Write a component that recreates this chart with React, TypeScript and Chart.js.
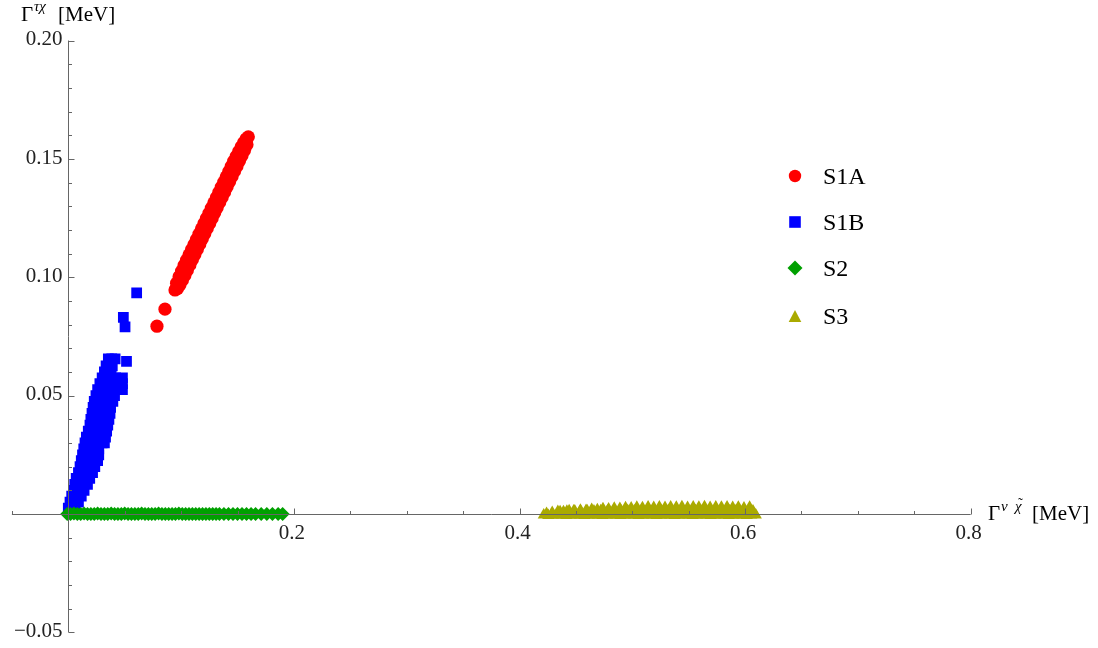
import React, { useEffect, useRef, useState } from 'react';
import { Chart, registerables } from 'chart.js';

Chart.register(...registerables);

// ---------- data ----------
const seriesLabels = ['S1A', 'S1B', 'S2', 'S3'];
const seriesColors = ['#ff0000', '#0000ff', '#00a000', '#aaaa00'];

const s1aPoints: [number, number][] = [
  [0.0786, 0.0793], [0.0857, 0.0865],
  [0.0946, 0.0946], [0.096, 0.0975], [0.0968, 0.0952], [0.0982, 0.1002], [0.099, 0.0968],
  [0.1004, 0.1026], [0.1012, 0.0988], [0.1026, 0.1050], [0.1034, 0.1008], [0.1048, 0.1072],
  [0.1056, 0.1030], [0.107, 0.1094], [0.1078, 0.1052], [0.1092, 0.1116], [0.11, 0.1074],
  [0.1114, 0.1138], [0.1122, 0.1096], [0.1136, 0.1160], [0.1144, 0.1118], [0.1158, 0.1182],
  [0.1166, 0.1140], [0.118, 0.1204], [0.1188, 0.1162], [0.1202, 0.1226], [0.121, 0.1184],
  [0.1224, 0.1248], [0.1232, 0.1206], [0.1246, 0.1270], [0.1254, 0.1228], [0.1268, 0.1292],
  [0.1276, 0.1250], [0.129, 0.1314], [0.1298, 0.1272], [0.1312, 0.1336], [0.132, 0.1294],
  [0.1334, 0.1358], [0.1342, 0.1316], [0.1356, 0.1380], [0.1364, 0.1338], [0.1378, 0.1402],
  [0.1386, 0.1360], [0.14, 0.1424], [0.1408, 0.1382], [0.1422, 0.1446], [0.143, 0.1404],
  [0.1444, 0.1468], [0.1452, 0.1426], [0.1466, 0.1490], [0.1474, 0.1448], [0.1488, 0.1510],
  [0.1496, 0.1470], [0.151, 0.1530], [0.1518, 0.1492], [0.1532, 0.1550], [0.154, 0.1514],
  [0.1554, 0.1568], [0.1562, 0.1536], [0.1576, 0.1584], [0.1584, 0.1560], [0.1596, 0.1593],
];

const s1bPoints: [number, number][] = [
  [0.0, 0.0025], [0.004, 0.0025], [0.006, 0.0025],
  [0.0015, 0.005], [0.005, 0.005], [0.009, 0.005],
  [0.003, 0.0075], [0.007, 0.0075], [0.0115, 0.0075],
  [0.0045, 0.01], [0.008, 0.01], [0.011, 0.01], [0.014, 0.01],
  [0.0057, 0.0125], [0.009, 0.0125], [0.0125, 0.0125], [0.017, 0.0125],
  [0.007, 0.015], [0.0105, 0.015], [0.014, 0.015], [0.019, 0.015],
  [0.009, 0.0175], [0.0125, 0.0175], [0.016, 0.0175], [0.0215, 0.0175],
  [0.0104, 0.02], [0.014, 0.02], [0.018, 0.02], [0.0235, 0.02],
  [0.0115, 0.0225], [0.015, 0.0225], [0.019, 0.0225], [0.026, 0.0225],
  [0.0126, 0.025], [0.016, 0.025], [0.02, 0.025], [0.024, 0.025], [0.027, 0.025],
  [0.0137, 0.0275], [0.017, 0.0275], [0.021, 0.0275], [0.024, 0.0275], [0.027, 0.0275],
  [0.0148, 0.03], [0.018, 0.03], [0.022, 0.03], [0.026, 0.03], [0.03, 0.03], [0.032, 0.03],
  [0.016, 0.0325], [0.02, 0.0325], [0.024, 0.0325], [0.028, 0.0325], [0.033, 0.0325],
  [0.0177, 0.035], [0.021, 0.035], [0.025, 0.035], [0.029, 0.035], [0.034, 0.035],
  [0.0192, 0.0375], [0.023, 0.0375], [0.027, 0.0375], [0.031, 0.0375], [0.035, 0.0375],
  [0.02, 0.04], [0.024, 0.04], [0.028, 0.04], [0.032, 0.04], [0.036, 0.04],
  [0.021, 0.0425], [0.025, 0.0425], [0.029, 0.0425], [0.033, 0.0425], [0.037, 0.0425],
  [0.022, 0.045], [0.026, 0.045], [0.03, 0.045], [0.034, 0.045], [0.0375, 0.045],
  [0.023, 0.0475], [0.027, 0.0475], [0.031, 0.0475], [0.035, 0.0475], [0.0395, 0.0475],
  [0.0245, 0.05], [0.028, 0.05], [0.032, 0.05], [0.036, 0.05], [0.041, 0.05],
  [0.026, 0.0525], [0.03, 0.0525], [0.034, 0.0525], [0.038, 0.0525], [0.042, 0.0525], [0.045, 0.0525], [0.048, 0.0525],
  [0.028, 0.055], [0.032, 0.055], [0.036, 0.055], [0.04, 0.055], [0.044, 0.055], [0.048, 0.055],
  [0.03, 0.0575], [0.034, 0.0575], [0.038, 0.0575], [0.042, 0.0575], [0.048, 0.0575],
  [0.032, 0.06], [0.035, 0.06], [0.038, 0.06],
  [0.0335, 0.0625], [0.036, 0.0625], [0.039, 0.0625],
  [0.0355, 0.0655], [0.0385, 0.0655], [0.0415, 0.0655], [0.0516, 0.0645],
  [0.0503, 0.079], [0.0488, 0.083], [0.0606, 0.0934],
];

const s2Points: [number, number][] = [
  [-0.001, 0.0], [0.002, 0.0], [0.005, 0.0002], [0.008, 0.0], [0.011, 0.0], [0.014, 0.0002], [0.017, 0.0],
  [0.02, 0.0], [0.023, 0.0], [0.026, 0.0002], [0.029, 0.0], [0.032, 0.0], [0.035, 0.0], [0.038, 0.0002],
  [0.041, 0.0], [0.044, 0.0], [0.047, 0.0], [0.05, 0.0002], [0.053, 0.0], [0.056, 0.0], [0.059, 0.0],
  [0.062, 0.0], [0.065, 0.0002], [0.068, 0.0], [0.071, 0.0], [0.074, 0.0], [0.077, 0.0], [0.08, 0.0002],
  [0.083, 0.0], [0.086, 0.0], [0.089, 0.0], [0.092, 0.0], [0.095, 0.0], [0.098, 0.0002], [0.101, 0.0],
  [0.104, 0.0], [0.107, 0.0], [0.11, 0.0], [0.113, 0.0], [0.116, 0.0], [0.119, 0.0], [0.122, 0.0],
  [0.125, 0.0], [0.128, 0.0], [0.131, 0.0], [0.134, 0.0], [0.138, 0.0], [0.142, 0.0], [0.146, 0.0],
  [0.15, 0.0], [0.154, 0.0], [0.158, 0.0], [0.162, 0.0], [0.166, 0.0], [0.171, 0.0], [0.176, 0.0],
  [0.181, 0.0], [0.186, 0.0], [0.19, 0.0],
];

const s3LowPoints: [number, number][] = [
  [0.4215, -0.0004], [0.4255, -0.0007], [0.4295, -0.0005], [0.4335, -0.0006], [0.4375, -0.0004],
  [0.4415, -0.0007], [0.4455, -0.0005], [0.4495, -0.0006], [0.4535, -0.0004], [0.4575, -0.0007],
  [0.4615, -0.0005], [0.4655, -0.0006], [0.4695, -0.0004], [0.4735, -0.0007], [0.4775, -0.0005],
  [0.4815, -0.0006], [0.4855, -0.0004], [0.4895, -0.0007], [0.4935, -0.0005], [0.4975, -0.0006],
  [0.5015, -0.0004], [0.5055, -0.0007], [0.5095, -0.0005], [0.5135, -0.0006], [0.5175, -0.0004],
  [0.5215, -0.0007], [0.5255, -0.0005], [0.5295, -0.0006], [0.5335, -0.0004], [0.5375, -0.0007],
  [0.5415, -0.0005], [0.5455, -0.0006], [0.5495, -0.0004], [0.5535, -0.0007], [0.5575, -0.0005],
  [0.5615, -0.0006], [0.5655, -0.0004], [0.5695, -0.0007], [0.5735, -0.0005], [0.5775, -0.0006],
  [0.5815, -0.0004], [0.5855, -0.0007], [0.5895, -0.0005], [0.5935, -0.0006], [0.5975, -0.0004],
  [0.6015, -0.0007], [0.6055, -0.0005], [0.6095, -0.0004],
];

const s3MidPoints: [number, number][] = [
  [0.436, 0.0009], [0.442, 0.0011], [0.448, 0.0012], [0.454, 0.0012], [0.46, 0.0013], [0.466, 0.0012],
  [0.472, 0.0013], [0.478, 0.0012], [0.484, 0.0013], [0.49, 0.0012], [0.496, 0.0013], [0.502, 0.0012],
  [0.508, 0.0013], [0.514, 0.0012], [0.52, 0.0013], [0.526, 0.0012], [0.532, 0.0013], [0.538, 0.0012],
  [0.544, 0.0013], [0.55, 0.0012], [0.556, 0.0013], [0.562, 0.0012], [0.568, 0.0013], [0.574, 0.0012],
  [0.58, 0.0013], [0.586, 0.0012], [0.592, 0.0013], [0.598, 0.0012], [0.604, 0.0011],
];

const s3TopPoints: [number, number][] = [
  [0.424, 0.0002], [0.429, 0.0006], [0.434, 0.001], [0.439, 0.0009], [0.444, 0.0013], [0.449, 0.0012],
  [0.454, 0.0016], [0.459, 0.0015], [0.464, 0.0019], [0.469, 0.0018], [0.474, 0.0022], [0.479, 0.0021],
  [0.484, 0.0024], [0.489, 0.0023], [0.494, 0.0026], [0.499, 0.0025], [0.504, 0.0028], [0.509, 0.0026],
  [0.514, 0.0029], [0.519, 0.0027], [0.524, 0.0029], [0.529, 0.0027], [0.534, 0.0029], [0.539, 0.0028],
  [0.544, 0.003], [0.549, 0.0027], [0.554, 0.0029], [0.559, 0.0028], [0.564, 0.003], [0.569, 0.0027],
  [0.574, 0.0029], [0.579, 0.0028], [0.584, 0.0029], [0.589, 0.0027], [0.594, 0.0028], [0.599, 0.0025],
  [0.604, 0.0028], [0.607, 0.0012],
];

const xRange = [-0.05, 0.8];
const yRange = [-0.05, 0.2];
const xTickValues = [0.2, 0.4, 0.6, 0.8];
const xTickLabels = ['0.2', '0.4', '0.6', '0.8'];
const yTickValues = [-0.05, 0.05, 0.1, 0.15, 0.2];
const yTickLabels = ['\u22120.05', '0.05', '0.10', '0.15', '0.20'];

const SERIF = '"Liberation Serif", serif';
const ASC = 0.8375; // baseline offset (em) inside a line-height:1 box for Liberation Serif
const legendY = [176, 222, 268, 316];
const legendX = 795;

function drawMarker(ctx: CanvasRenderingContext2D, kind: number, x: number, y: number) {
  ctx.save();
  ctx.fillStyle = seriesColors[kind];
  ctx.beginPath();
  if (kind === 0) {
    ctx.arc(x, y, 6.2, 0, Math.PI * 2);
  } else if (kind === 1) {
    ctx.rect(x - 5.8, y - 5.8, 11.6, 11.6);
  } else if (kind === 2) {
    ctx.moveTo(x - 7.5, y);
    ctx.lineTo(x, y - 7.5);
    ctx.lineTo(x + 7.5, y);
    ctx.lineTo(x, y + 7.5);
    ctx.closePath();
  } else {
    ctx.moveTo(x, y - 6);
    ctx.lineTo(x + 6.3, y + 6);
    ctx.lineTo(x - 6.3, y + 6);
    ctx.closePath();
  }
  ctx.fill();
  ctx.restore();
}

const axesPlugin = {
  id: 'mmaAxes',
  afterDatasetsDraw(chart: any) {
    const ctx: CanvasRenderingContext2D = chart.ctx;
    const xs = chart.scales.x;
    const ys = chart.scales.y;
    const x0 = Math.round(xs.getPixelForValue(0)) + 0.5;
    const y0 = Math.round(ys.getPixelForValue(0)) + 0.5;
    ctx.save();
    ctx.strokeStyle = '#666';
    ctx.lineWidth = 1;
    ctx.beginPath();
    ctx.moveTo(xs.getPixelForValue(xRange[0]), y0);
    ctx.lineTo(xs.getPixelForValue(xRange[1]), y0);
    ctx.moveTo(x0, ys.getPixelForValue(yRange[0]));
    ctx.lineTo(x0, ys.getPixelForValue(yRange[1]));
    ctx.stroke();
    ctx.beginPath();
    for (let i = -1; i <= 16; i++) {
      const px = Math.round(xs.getPixelForValue(i * 0.05)) + 0.5;
      const len = i % 4 === 0 ? 6 : 3.5;
      ctx.moveTo(px, y0);
      ctx.lineTo(px, y0 - len);
    }
    for (let i = -5; i <= 20; i++) {
      const py = Math.round(ys.getPixelForValue(i * 0.01)) + 0.5;
      const len = i % 5 === 0 ? 6 : 3.5;
      ctx.moveTo(x0, py);
      ctx.lineTo(x0 + len, py);
    }
    ctx.stroke();
    ctx.restore();
    seriesLabels.forEach((_, i) => drawMarker(ctx, i, legendX, legendY[i]));
  },
};

const toXY = (pts: [number, number][]) => pts.map(([x, y]) => ({ x, y }));

type Pos = { xt: number[]; yt: number[]; x0: number; y0: number };

function T(props: { x: number; b: number; size: number; text: string; align?: 'left' | 'center' | 'right'; italic?: boolean; color?: string }) {
  const { x, b, size, text, align = 'left', italic, color = '#000' } = props;
  const tx = align === 'center' ? 'translateX(-50%)' : align === 'right' ? 'translateX(-100%)' : 'none';
  return (
    <div
      style={{
        position: 'absolute',
        left: x,
        top: b - ASC * size,
        fontFamily: SERIF,
        fontSize: size,
        lineHeight: `${size}px`,
        fontStyle: italic ? 'italic' : 'normal',
        color,
        whiteSpace: 'nowrap',
        transform: tx,
      }}
    >
      {text}
    </div>
  );
}

export default function App() {
  const ref = useRef<HTMLCanvasElement | null>(null);
  const [pos, setPos] = useState<Pos | null>(null);
  useEffect(() => {
    if (!ref.current) return;
    const chart = new Chart(ref.current, {
      type: 'scatter',
      data: {
        datasets: [
          { label: seriesLabels[0], data: toXY(s1aPoints), backgroundColor: seriesColors[0], pointStyle: 'circle', pointRadius: 6.6, borderWidth: 0, order: 3 },
          { label: seriesLabels[1], data: toXY(s1bPoints), backgroundColor: seriesColors[1], pointStyle: 'rect', pointRadius: 7.6, borderWidth: 0, order: 2 },
          { label: seriesLabels[2], data: toXY(s2Points), backgroundColor: seriesColors[2], pointStyle: 'rectRot', pointRadius: 7, borderWidth: 0, order: 1 },
          { label: seriesLabels[3], data: toXY([...s3LowPoints, ...s3MidPoints, ...s3TopPoints]), backgroundColor: seriesColors[3], pointStyle: 'triangle', pointRadius: 7, borderWidth: 0, order: 0 },
        ] as any,
      },
      options: {
        responsive: false,
        animation: false,
        events: [],
        layout: { padding: { left: 11.9, right: 127.3, top: 40.5, bottom: 15.7 } },
        plugins: { legend: { display: false }, tooltip: { enabled: false } },
        scales: {
          x: { type: 'linear', min: xRange[0], max: xRange[1], display: false },
          y: { type: 'linear', min: yRange[0], max: yRange[1], display: false },
        },
      },
      plugins: [axesPlugin],
    });
    const xs: any = chart.scales.x;
    const ys: any = chart.scales.y;
    setPos({
      xt: xTickValues.map((v) => xs.getPixelForValue(v)),
      yt: yTickValues.map((v) => ys.getPixelForValue(v)),
      x0: Math.round(xs.getPixelForValue(0)) + 0.5,
      y0: Math.round(ys.getPixelForValue(0)) + 0.5,
    });
    return () => chart.destroy();
  }, []);
  return (
    <div style={{ position: 'absolute', left: 0, top: 0, width: 1098, height: 648, background: '#fff', overflow: 'hidden' }}>
      <canvas ref={ref} width={1098} height={648} style={{ display: 'block' }} />
      {pos && (
        <>
          {xTickLabels.map((lab, i) => (
            <T key={'x' + i} x={pos.xt[i] - 2} b={pos.y0 + 25} size={21} text={lab} align="center" color="#222" />
          ))}
          {yTickLabels.map((lab, i) => (
            <T key={'y' + i} x={pos.x0 - 6} b={pos.yt[i] + 5.5} size={21} text={lab} align="right" color="#222" />
          ))}
        </>
      )}
      <T x={21} b={22} size={21} text={'\u0393'} />
      <T x={34} b={12} size={15} text={'\u03C4\u03C7'} italic />
      <T x={58} b={22} size={21} text="[MeV]" />
      <T x={988} b={521} size={21} text={'\u0393'} />
      <T x={1001} b={512} size={15} text={'\u03BD'} italic />
      <T x={1015} b={512} size={15} text={'\u03C7'} italic />
      <T x={1018} b={509} size={15} text={'\u02DC'} />
      <T x={1032} b={521} size={21} text="[MeV]" />
      {seriesLabels.map((lab, i) => (
        <T key={lab} x={823} b={legendY[i] + 8.5} size={24} text={lab} />
      ))}
    </div>
  );
}
